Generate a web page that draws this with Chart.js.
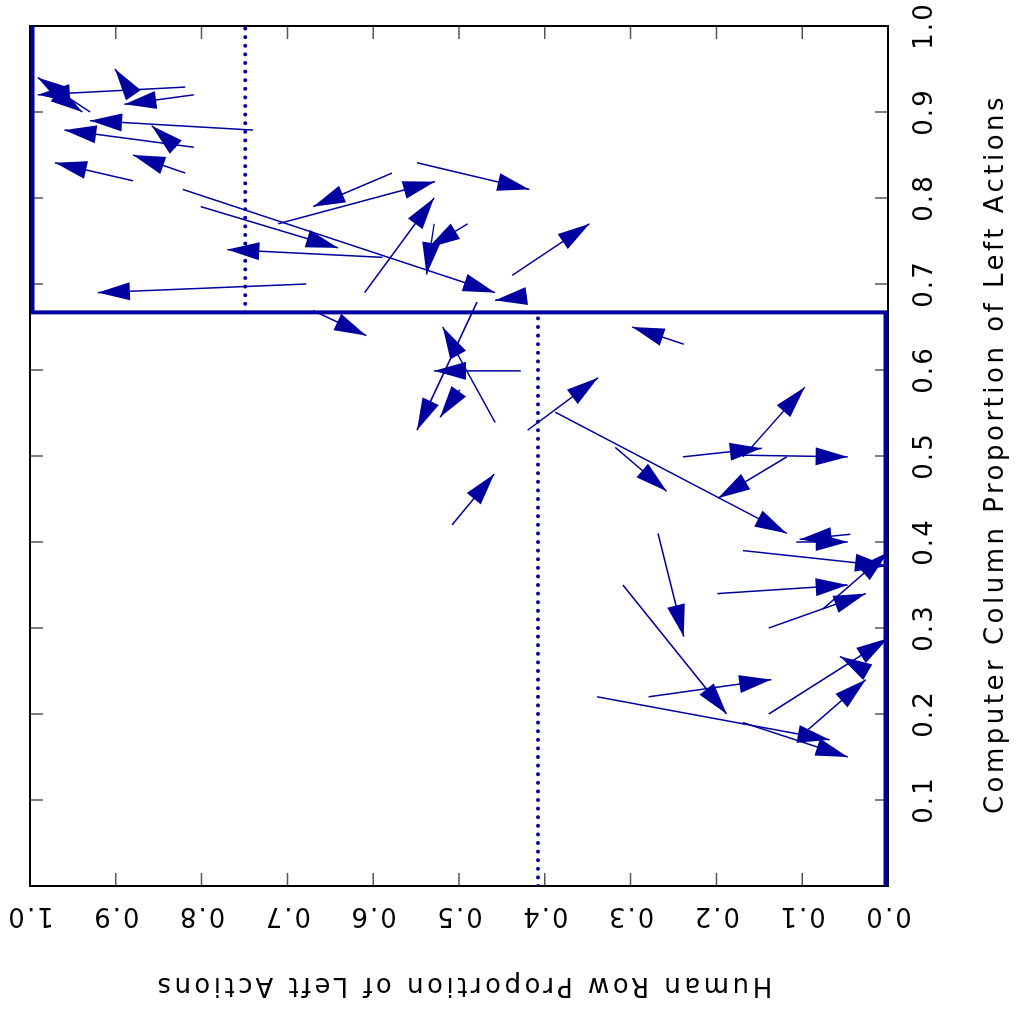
<!DOCTYPE html>
<html>
<head>
<meta charset="utf-8">
<script src="https://cdn.jsdelivr.net/npm/chart.js@4/dist/chart.umd.min.js"></script>
<style>
  html, body { margin: 0; padding: 0; background: #fff; overflow: hidden; }
  #wrap { position: absolute; left: 3px; top: -3px; width: 1012px; height: 1018px; transform: rotate(-90deg); }
</style>
</head>
<body>
<div id="wrap"><canvas id="c" width="1012" height="1018"></canvas></div>
<script>
// arrows: human row proportion (h) and computer column proportion (c), tail -> head
const tailH = [0.819,0.809,0.930,0.880,0.977,0.740,0.809,0.830,0.819,0.880,0.822,0.801,0.711,0.589,0.678,
  0.578,0.549,0.610,0.490,0.529,0.438,0.421,0.670,0.479,0.458,0.428,0.499,0.420,0.388,0.238,0.318,0.239,
  0.172,0.169,0.118,0.107,0.044,0.169,0.199,0.268,0.309,0.139,0.076,0.139,0.026,0.279,0.339,0.169,0.093,0.508];
const tailC = [0.929,0.920,0.900,0.920,0.926,0.879,0.859,0.859,0.829,0.820,0.810,0.790,0.770,0.731,0.700,
  0.829,0.841,0.690,0.770,0.770,0.710,0.686,0.669,0.679,0.539,0.599,0.577,0.530,0.551,0.630,0.510,0.499,
  0.501,0.499,0.499,0.400,0.409,0.390,0.340,0.410,0.350,0.300,0.322,0.200,0.250,0.220,0.220,0.190,0.182,0.420];
const headH = [0.991,0.890,0.991,0.901,0.939,0.930,0.960,0.858,0.880,0.971,0.458,0.641,0.528,0.770,0.921,
  0.670,0.418,0.529,0.536,0.538,0.348,0.458,0.608,0.549,0.519,0.529,0.522,0.338,0.118,0.298,0.258,0.147,
  0.047,0.097,0.198,0.047,0.103,0.001,0.047,0.238,0.188,0.026,0.000,0.000,0.056,0.136,0.068,0.047,0.026,0.459];
const headC = [0.920,0.909,0.940,0.950,0.900,0.890,0.879,0.884,0.850,0.841,0.690,0.742,0.819,0.740,0.690,
  0.790,0.810,0.800,0.742,0.711,0.770,0.681,0.640,0.530,0.650,0.599,0.545,0.591,0.410,0.650,0.459,0.509,
  0.499,0.580,0.451,0.400,0.403,0.372,0.350,0.290,0.200,0.340,0.388,0.288,0.267,0.240,0.170,0.150,0.240,0.479];

// boundary lines (computer, human)
const stepC = [0, 0.667, 0.667, 1];
const stepH = [0.003, 0.003, 0.997, 0.997];
const dotLowC = [0, 0.667], dotLowH = [0.408, 0.408];
const dotHighC = [0.667, 1], dotHighH = [0.749, 0.749];

const compTicks = ['0.1','0.2','0.3','0.4','0.5','0.6','0.7','0.8','0.9','1.0'];
const humanTicks = ['0.0','0.1','0.2','0.3','0.4','0.5','0.6','0.7','0.8','0.9','1.0'];

const BLUE = '#0000a0';
const FONT = '"DejaVu Sans", sans-serif';

const pts = (xs, ys) => xs.map((x, i) => ({ x, y: ys[i] }));

const datasets = [
  { data: pts(stepC, stepH), borderColor: BLUE, borderWidth: 4, pointRadius: 0, clip: false },
  { data: pts(dotLowC, dotLowH), borderColor: BLUE, borderWidth: 4, borderDash: [0, 8.6], borderCapStyle: 'round', pointRadius: 0 },
  { data: pts(dotHighC, dotHighH), borderColor: BLUE, borderWidth: 4, borderDash: [0, 8.6], borderCapStyle: 'round', pointRadius: 0 },
];
tailH.forEach((h, i) => {
  datasets.push({
    data: [{ x: tailC[i], y: h }, { x: headC[i], y: headH[i] }],
    borderColor: BLUE, borderWidth: 1.5, pointRadius: 0, arrow: true, clip: false,
  });
});

const frame = {
  id: 'frame',
  beforeDatasetsDraw(chart) {
    const { ctx, chartArea: a, scales: { x, y } } = chart;
    ctx.save();
    // inward ticks on all sides
    ctx.strokeStyle = '#555';
    ctx.lineWidth = 1.5;
    ctx.beginPath();
    compTicks.forEach(t => {
      const px = x.getPixelForValue(parseFloat(t));
      ctx.moveTo(px, a.bottom); ctx.lineTo(px, a.bottom - 13);
      ctx.moveTo(px, a.top); ctx.lineTo(px, a.top + 13);
    });
    humanTicks.forEach(t => {
      const py = y.getPixelForValue(parseFloat(t));
      ctx.moveTo(a.left, py); ctx.lineTo(a.left + 13, py);
      ctx.moveTo(a.right, py); ctx.lineTo(a.right - 13, py);
    });
    ctx.stroke();
    ctx.strokeStyle = '#000';
    ctx.lineWidth = 2;
    ctx.strokeRect(a.left, a.top, a.right - a.left, a.bottom - a.top);
    ctx.restore();
  },
  afterDatasetsDraw(chart) {
    const { ctx, chartArea: a, scales: { x, y } } = chart;
    ctx.save();
    // arrow heads
    ctx.fillStyle = BLUE;
    chart.data.datasets.forEach(ds => {
      if (!ds.arrow) return;
      const x0 = x.getPixelForValue(ds.data[0].x), y0 = y.getPixelForValue(ds.data[0].y);
      const x1 = x.getPixelForValue(ds.data[1].x), y1 = y.getPixelForValue(ds.data[1].y);
      const ang = Math.atan2(y1 - y0, x1 - x0);
      const L = 32, W = 9;
      ctx.beginPath();
      ctx.moveTo(x1, y1);
      ctx.lineTo(x1 - L * Math.cos(ang) + W * Math.sin(ang), y1 - L * Math.sin(ang) - W * Math.cos(ang));
      ctx.lineTo(x1 - L * Math.cos(ang) - W * Math.sin(ang), y1 - L * Math.sin(ang) + W * Math.cos(ang));
      ctx.closePath();
      ctx.fill();
    });
    // tick labels
    ctx.fillStyle = '#000';
    ctx.font = '26px ' + FONT;
    ctx.letterSpacing = '2px';
    ctx.textAlign = 'center';
    ctx.textBaseline = 'middle';
    compTicks.forEach(t => ctx.fillText(t, x.getPixelForValue(parseFloat(t)), 925));
    humanTicks.forEach(t => {
      ctx.save();
      ctx.translate(97, y.getPixelForValue(parseFloat(t)));
      ctx.rotate(-Math.PI / 2);
      ctx.fillText(t, 0, 0);
      ctx.restore();
    });
    // axis titles
    ctx.letterSpacing = '3.5px';
    ctx.fillText('Computer Column Proportion of Left Actions', (a.left + a.right) / 2 + 2, 996);
    ctx.save();
    ctx.translate(27, (a.top + a.bottom) / 2 + 4);
    ctx.rotate(-Math.PI / 2);
    ctx.fillText('Human Row Proportion of Left Actions', 0, 0);
    ctx.restore();
    ctx.restore();
  },
};

new Chart(document.getElementById('c'), {
  type: 'line',
  data: { datasets },
  options: {
    responsive: false,
    animation: false,
    devicePixelRatio: 1,
    layout: { padding: { left: 126, right: 26, top: 30, bottom: 130 } },
    plugins: { legend: { display: false }, tooltip: { enabled: false } },
    scales: {
      x: { type: 'linear', min: 0, max: 1, display: false },
      y: { type: 'linear', min: 0, max: 1, display: false },
    },
  },
  plugins: [frame],
});
</script>
</body>
</html>
